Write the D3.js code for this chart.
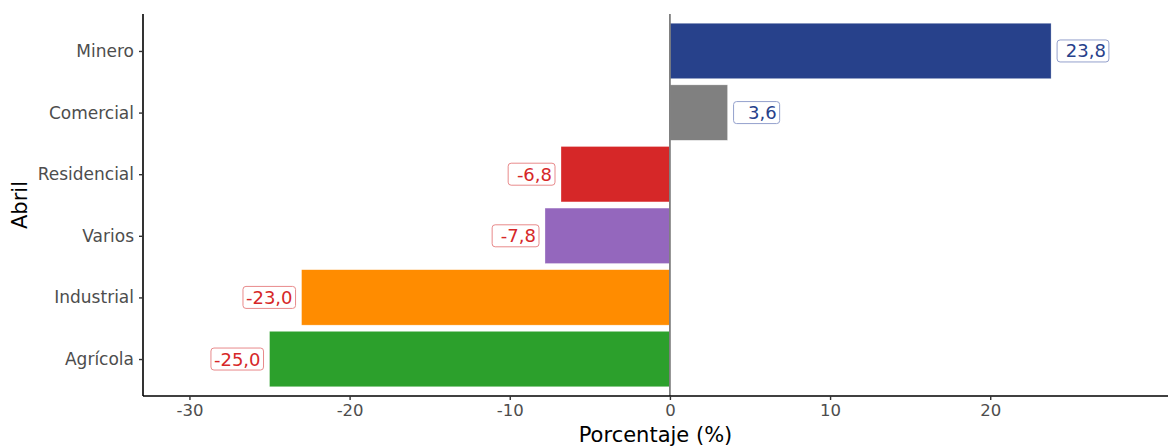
<!DOCTYPE html>
<html>
<head>
<meta charset="utf-8">
<script src="https://cdn.jsdelivr.net/npm/d3@7"></script>
<style>
  body { margin: 0; background: #fff; }
  text { font-family: "DejaVu Sans", sans-serif; }
</style>
</head>
<body>
<div id="chart"></div>
<script>
// data
const sectors = ["Minero", "Comercial", "Residencial", "Varios", "Industrial", "Agrícola"];
const values = [23.8, 3.6, -6.8, -7.8, -23.0, -25.0];
const barColors = ["#27418b", "#808080", "#d62728", "#9467bd", "#ff8c00", "#2ca02c"];
const xTicks = [-30, -20, -10, 0, 10, 20];

const width = 1168, height = 446;
const margin = { top: 14, right: 0, bottom: 50, left: 143 };

const svg = d3.select("#chart")
  .append("svg")
  .attr("width", width)
  .attr("height", height);

const x = d3.scaleLinear()
  .domain([-32.9, 31.1])
  .range([margin.left, width - margin.right]);

const y = d3.scalePoint()
  .domain(sectors)
  .range([margin.top, height - margin.bottom])
  .padding(0.6);

const barH = y.step() * 0.9;

// format like R's formatC(width = 5): comma decimal, left padded
const fmt = v => d3.format(".1f")(v).replace(".", ",").replace("−", "-").padStart(5, " ");

// bars
svg.append("g")
  .selectAll("rect")
  .data(values)
  .join("rect")
  .attr("x", d => x(Math.min(0, d)))
  .attr("width", d => Math.abs(x(d) - x(0)))
  .attr("y", (d, i) => y(sectors[i]) - barH / 2)
  .attr("height", barH)
  .attr("fill", (d, i) => barColors[i])
  .attr("stroke", "#fff")
  .attr("stroke-opacity", 0.5)
  .attr("stroke-width", 0.6);

// zero line
svg.append("line")
  .attr("x1", x(0)).attr("x2", x(0))
  .attr("y1", margin.top).attr("y2", height - margin.bottom)
  .attr("stroke", "#7f7f7f")
  .attr("stroke-width", 1.8);

// value labels
const labels = svg.append("g")
  .selectAll("g")
  .data(values)
  .join("g");

labels.each(function (d, i) {
  const g = d3.select(this);
  const pos = d >= 0;
  const txtColor = pos ? "#27418b" : "#d62728";
  const boxColor = pos ? "#93a0cc" : "#e88a8b";
  const t = g.append("text")
    .attr("y", y(sectors[i]))
    .attr("dy", "0.36em")
    .attr("font-size", 18)
    .attr("fill", txtColor)
    .style("white-space", "pre")
    .text(fmt(d));
  const w = t.node().getComputedTextLength();
  const pad = 3;
  const gap = 6;
  const x0 = pos ? x(d) + gap : x(d) - gap - w - 2 * pad;
  t.attr("x", x0 + pad);
  g.insert("rect", "text")
    .attr("x", x0)
    .attr("y", y(sectors[i]) - 11)
    .attr("width", w + 2 * pad)
    .attr("height", 22)
    .attr("rx", 3)
    .attr("fill", "#fff")
    .attr("stroke", boxColor)
    .attr("stroke-width", 1);
});

// x axis
const xAxis = svg.append("g")
  .attr("transform", `translate(0,${height - margin.bottom})`)
  .call(d3.axisBottom(x).tickValues(xTicks).tickSize(4).tickPadding(4).tickFormat(d => d3.format("d")(d).replace("−", "-")));
xAxis.select(".domain").attr("stroke", "#000").attr("stroke-width", 1.6)
  .attr("d", `M${margin.left},0H${width}`);
xAxis.selectAll(".tick line").attr("stroke", "#333").attr("stroke-width", 1.4);
xAxis.selectAll(".tick text").attr("font-size", 16.5).attr("fill", "#4d4d4d")
  .attr("font-family", "DejaVu Sans, sans-serif");

// y axis
const yAxis = svg.append("g")
  .attr("transform", `translate(${margin.left},0)`)
  .call(d3.axisLeft(y).tickSize(4).tickPadding(5));
yAxis.select(".domain").attr("stroke", "#000").attr("stroke-width", 1.6)
  .attr("d", `M0,${margin.top}V${height - margin.bottom}`);
yAxis.selectAll(".tick line").attr("stroke", "#333").attr("stroke-width", 1.4);
yAxis.selectAll(".tick text").attr("font-size", 17).attr("fill", "#4d4d4d")
  .attr("font-family", "DejaVu Sans, sans-serif");

// axis titles
svg.append("text")
  .attr("x", (margin.left + width) / 2)
  .attr("y", 442)
  .attr("text-anchor", "middle")
  .attr("font-size", 21)
  .attr("fill", "#000")
  .text("Porcentaje (%)");

svg.append("text")
  .attr("transform", `translate(27,${(margin.top + height - margin.bottom) / 2}) rotate(-90)`)
  .attr("text-anchor", "middle")
  .attr("font-size", 21)
  .attr("fill", "#000")
  .text("Abril");
</script>
</body>
</html>
